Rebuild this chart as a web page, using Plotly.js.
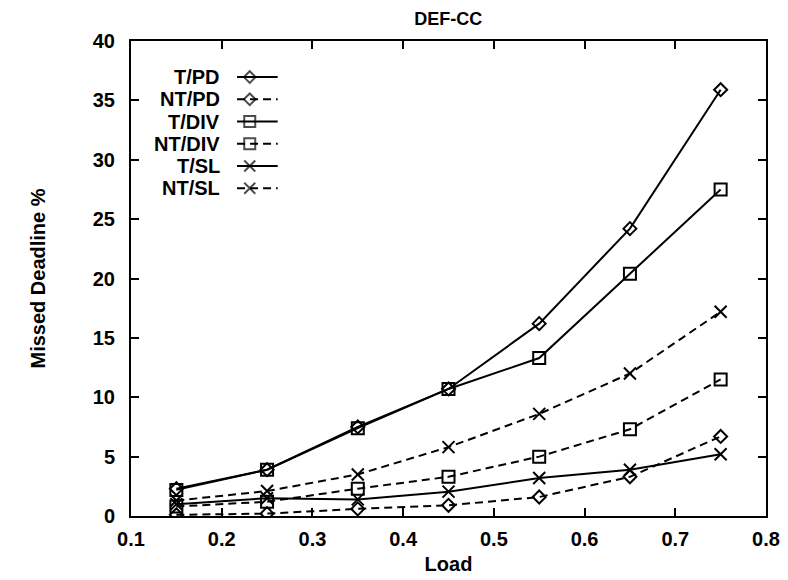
<!DOCTYPE html>
<html>
<head>
<meta charset="utf-8">
<script src="https://cdn.plot.ly/plotly-3.0.1.min.js"></script>
<style>html,body{margin:0;padding:0;background:#fff;}#chart{width:788px;height:580px;}</style>
</head>
<body>
<div id="chart"></div>
<script>
// ---- data ----
const load = [0.15, 0.25, 0.35, 0.45, 0.55, 0.65, 0.75];
const seriesNames = ["T/PD", "NT/PD", "T/DIV", "NT/DIV", "T/SL", "NT/SL"];
const tPD   = [2.3, 3.9, 7.5, 10.7, 16.2, 24.2, 35.9];
const ntPD  = [0.1, 0.2, 0.6, 0.9, 1.6, 3.3, 6.7];
const tDIV  = [2.2, 3.9, 7.4, 10.7, 13.3, 20.4, 27.5];
const ntDIV = [0.8, 1.2, 2.3, 3.3, 5.0, 7.3, 11.5];
const tSL   = [1.0, 1.5, 1.4, 2.05, 3.2, 3.9, 5.2];
const ntSL  = [1.3, 2.1, 3.5, 5.8, 8.6, 12.0, 17.2];
const xTicks = [0.1, 0.2, 0.3, 0.4, 0.5, 0.6, 0.7, 0.8];
const yTicks = [0, 5, 10, 15, 20, 25, 30, 35, 40];

// ---- styles ----
const values = [tPD, ntPD, tDIV, ntDIV, tSL, ntSL];
const symbols = ["diamond-open", "diamond-open", "square-open", "square-open", "x-thin-open", "x-thin-open"];
const sizes = [10, 10, 12, 12, 12, 12];
const dashes = ["solid", "8px,5px", "solid", "8px,5px", "solid", "8px,5px"];
const FONT = "Liberation Sans, Arial, Helvetica, sans-serif";
const xRange = [0.1, 0.8], yRange = [0, 40];

const traces = values.map((v, i) => ({
  type: "scatter", mode: "lines+markers", name: seriesNames[i],
  x: load, y: v, showlegend: false,
  line: {color: "#000", width: 2, dash: dashes[i]},
  marker: {symbol: symbols[i], size: sizes[i], color: "#000", line: {color: "#000", width: 2}}
}));

// ---- custom legend (text left, sample right), positions as fractions of plot area ----
const legTextX = 0.143, legLine0 = 0.167, legMarkX = 0.187, legLine1 = 0.231;
const legTop = 0.924, legStep = 0.0468;
const annotations = [], shapes = [];
const legY = seriesNames.map((n, i) => legTop - i * legStep);
const fx = f => xRange[0] + f * (xRange[1] - xRange[0]);
const fy = f => yRange[0] + f * (yRange[1] - yRange[0]);
seriesNames.forEach((n, i) => {
  annotations.push({xref: "paper", yref: "paper", x: legTextX, y: legY[i], text: n,
    showarrow: false, xanchor: "right", yanchor: "middle",
    font: {family: FONT, size: 20, weight: "bold", color: "#000"}});
  shapes.push({type: "line", xref: "paper", yref: "paper", x0: legLine0, x1: legLine1,
    y0: legY[i], y1: legY[i], layer: "below", line: {color: "#000", width: 2, dash: dashes[i]}});
});
traces.push({
  type: "scatter", mode: "markers", showlegend: false, hoverinfo: "skip",
  x: seriesNames.map(() => fx(legMarkX)), y: legY.map(fy),
  marker: {symbol: symbols, size: sizes.map(s => s - 1), color: "#000", line: {color: "#000", width: 2}}
});

const axisFont = {family: FONT, size: 20, weight: "bold", color: "#000"};
const layout = {
  width: 788, height: 580,
  margin: {l: 131, r: 22, t: 41, b: 64, pad: 0},
  paper_bgcolor: "#fff", plot_bgcolor: "#fff",
  font: {family: FONT, color: "#000"},
  title: {text: "DEF-CC", x: 0.5688, xanchor: "center", y: 0.968, yanchor: "middle",
    font: {family: FONT, size: 18, weight: "bold", color: "#000"}},
  xaxis: {range: xRange, tickvals: xTicks, ticktext: xTicks.map(v => v.toFixed(1)),
    ticks: "inside", ticklen: 8, tickwidth: 2, tickcolor: "#000", ticklabelstandoff: 4,
    showline: true, linewidth: 2, linecolor: "#000", mirror: "ticks",
    showgrid: false, zeroline: false, tickfont: axisFont,
    title: {text: "Load", font: {family: FONT, size: 20, weight: "bold", color: "#000"}, standoff: 8}},
  yaxis: {range: yRange, tickvals: yTicks,
    ticks: "inside", ticklen: 8, tickwidth: 2, tickcolor: "#000", ticklabelstandoff: 10,
    showline: true, linewidth: 2, linecolor: "#000", mirror: "ticks",
    showgrid: false, zeroline: false, tickfont: axisFont,
    title: {text: "Missed Deadline %", font: {family: FONT, size: 20, weight: "bold", color: "#000"}, standoff: 42}},
  annotations: annotations, shapes: shapes, showlegend: false
};
Plotly.newPlot("chart", traces, layout, {staticPlot: true, displayModeBar: false});
</script>
</body>
</html>
